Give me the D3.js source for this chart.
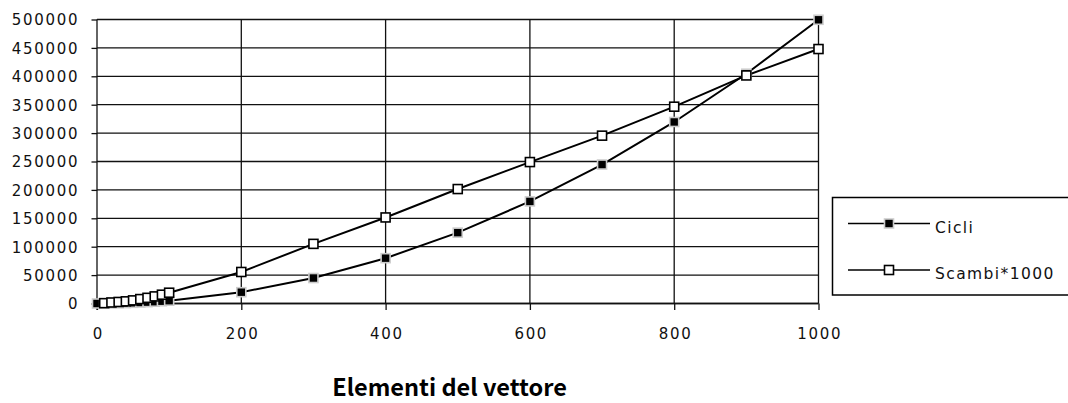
<!DOCTYPE html>
<html>
<head>
<meta charset="utf-8">
<script src="https://cdn.jsdelivr.net/npm/d3@7/dist/d3.min.js"></script>
<style>
  html, body { margin: 0; padding: 0; background: #fff; }
  svg { display: block; }
</style>
</head>
<body>
<svg id="chart" width="1068" height="403"></svg>
<script>
// Bubble sort: loop count and swaps (x1000) against array size
const cicliN = [0, 10, 20, 30, 40, 50, 60, 70, 80, 90, 100, 200, 300, 400, 500, 600, 700, 800, 900, 1000];
const cicliV = [0, 45, 190, 435, 780, 1225, 1770, 2415, 3160, 4005, 4950, 19900, 44850, 79800, 124750, 179700, 244650, 319600, 404550, 499500];
const scambiN = [10, 20, 30, 40, 50, 60, 70, 80, 90, 100, 200, 300, 400, 500, 600, 700, 800, 900, 1000];
const scambiV = [600, 1800, 2700, 3800, 5500, 7800, 10000, 12500, 15500, 19000, 55500, 105000, 151500, 201500, 249000, 295500, 346500, 401500, 448000];
const xTicks = [0, 200, 400, 600, 800, 1000];
const yTicks = [0, 50000, 100000, 150000, 200000, 250000, 300000, 350000, 400000, 450000, 500000];
const seriesNames = ["Cicli", "Scambi*1000"];
const axisTitle = "Elementi del vettore";

const svg = d3.select("#chart");
const labelFont = "'DejaVu Sans', sans-serif";
const ls = 1.7; // letter spacing of the numeric labels

const x = d3.scaleLinear().domain([0, 1000]).range([97, 818.5]);
const y = d3.scaleLinear().domain([0, 500000]).range([303.5, 19.5]);

// grid
const grid = svg.append("g").attr("stroke", "#111").attr("stroke-width", 1.3);
grid.selectAll("line.h").data(yTicks).join("line")
  .attr("x1", x(0)).attr("x2", x(1000))
  .attr("y1", d => y(d)).attr("y2", d => y(d));
grid.selectAll("line.v").data(xTicks.slice(1)).join("line")
  .attr("x1", d => x(d)).attr("x2", d => x(d))
  .attr("y1", y(500000)).attr("y2", y(0));

// axes
const yAxis = svg.append("g")
  .attr("transform", `translate(${x(0)},0)`)
  .call(d3.axisLeft(y).tickValues(yTicks).tickFormat(d3.format("d")).tickSize(5.5).tickSizeOuter(0).tickPadding(14));
const xAxis = svg.append("g")
  .attr("transform", `translate(0,${y(0)})`)
  .call(d3.axisBottom(x).tickValues(xTicks).tickFormat(d3.format("d")).tickSize(6.5).tickSizeOuter(0));

[yAxis, xAxis].forEach(g => {
  g.select(".domain").remove();
  g.selectAll(".tick line").attr("stroke", "#111").attr("stroke-width", 1.3);
  g.selectAll(".tick text")
    .attr("fill", "#111")
    .style("font-family", labelFont)
    .style("font-size", "15px")
    .style("letter-spacing", ls + "px");
});
yAxis.selectAll(".tick text").attr("x", -19.5 + ls).attr("dy", "0.36em");
xAxis.selectAll(".tick text").attr("y", 35.5).attr("dy", 0).attr("dx", ls / 2);

// axis lines
svg.append("line")
  .attr("x1", x(0)).attr("x2", x(0)).attr("y1", y(500000)).attr("y2", y(0) + 6.5)
  .attr("stroke", "#111").attr("stroke-width", 1.3);
svg.append("line")
  .attr("x1", x(0)).attr("x2", x(1000)).attr("y1", y(0)).attr("y2", y(0))
  .attr("stroke", "#111").attr("stroke-width", 1.3);

// series lines
const cicli = cicliN.map((n, i) => [n, cicliV[i]]);
const scambi = scambiN.map((n, i) => [n, scambiV[i]]);
const line = d3.line().x(d => x(d[0])).y(d => y(d[1]));

svg.append("path").datum(cicli).attr("d", line)
  .attr("fill", "none").attr("stroke", "#000").attr("stroke-width", 2);
svg.append("path").datum(scambi).attr("d", line)
  .attr("fill", "none").attr("stroke", "#000").attr("stroke-width", 2);

// markers
function blackMarker(sel, cx, cy) {
  sel.append("rect").attr("x", cx - 4.5).attr("y", cy - 4.5).attr("width", 9).attr("height", 9)
    .attr("fill", "#000").attr("stroke", "#ccc").attr("stroke-width", 1.6);
}
function whiteMarker(sel, cx, cy) {
  sel.append("rect").attr("x", cx - 4.5).attr("y", cy - 4.5).attr("width", 9).attr("height", 9)
    .attr("fill", "#fff").attr("stroke", "#000").attr("stroke-width", 1.6);
}
const mC = svg.append("g");
cicli.forEach(d => blackMarker(mC, x(d[0]), y(d[1])));
const mS = svg.append("g");
scambi.forEach(d => whiteMarker(mS, x(d[0]), y(d[1])));

// axis title
svg.append("text")
  .attr("x", 449.5).attr("y", 396)
  .attr("text-anchor", "middle")
  .style("font-family", "'Noto Sans CJK JP', sans-serif")
  .style("font-weight", 700)
  .style("font-size", "23.5px")
  .attr("fill", "#000")
  .text(axisTitle);

// legend
const lg = svg.append("g");
lg.append("rect").attr("x", 832.5).attr("y", 197.5).attr("width", 240).attr("height", 97.5)
  .attr("fill", "#fff").attr("stroke", "#000").attr("stroke-width", 1.5);
const legendRows = [223.5, 270];
seriesNames.forEach((name, i) => {
  const ly = legendRows[i];
  lg.append("line").attr("x1", 848).attr("x2", 930).attr("y1", ly).attr("y2", ly)
    .attr("stroke", "#000").attr("stroke-width", 1.6);
  if (i === 0) blackMarker(lg, 889, ly); else whiteMarker(lg, 889, ly);
  lg.append("text").attr("x", 935).attr("y", ly + 9)
    .style("font-family", labelFont).style("font-size", "15.5px")
    .style("letter-spacing", "1.4px")
    .attr("fill", "#111")
    .text(name);
});
</script>
</body>
</html>
